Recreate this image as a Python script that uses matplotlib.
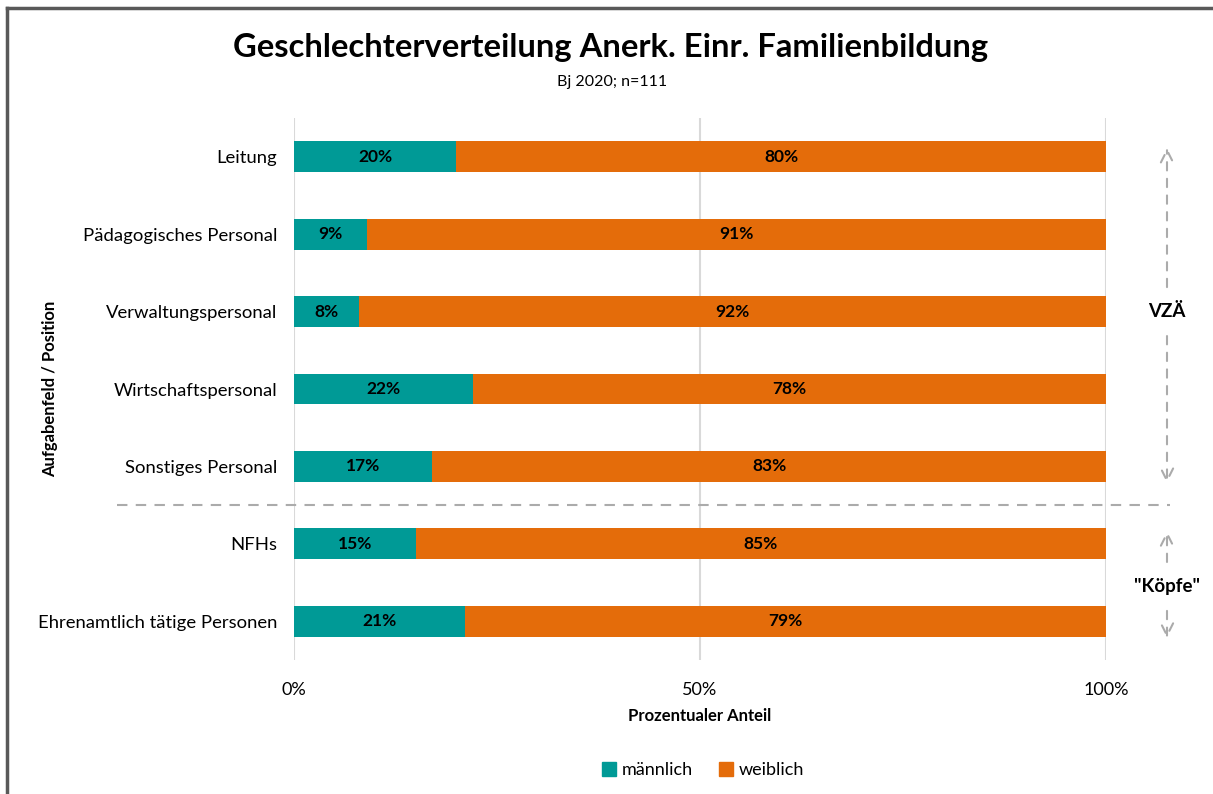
import matplotlib
matplotlib.use('Agg')
import matplotlib.pyplot as plt
from matplotlib.lines import Line2D

plt.rcParams['font.family'] = ['Lato', 'DejaVu Sans']

categories = ['Leitung', 'Pädagogisches Personal', 'Verwaltungspersonal',
              'Wirtschaftspersonal', 'Sonstiges Personal', 'NFHs',
              'Ehrenamtlich tätige Personen']
maennlich = [20, 9, 8, 22, 17, 15, 21]
weiblich = [80, 91, 92, 78, 83, 85, 79]
series_names = ['männlich', 'weiblich']
xticks = [0, 50, 100]
xticklabels = ['0%', '50%', '100%']

teal = '#009A96'
orange = '#E46C0A'
grey = '#ABABAB'

fig = plt.figure(figsize=(12.13, 7.94), dpi=100)
ax = fig.add_axes([294/1213, 1-660/794, 812/1213, 542/794])

y = list(range(len(categories)))
ax.barh(y, maennlich, height=0.40, color=teal, label=series_names[0])
ax.barh(y, weiblich, left=maennlich, height=0.40, color=orange, label=series_names[1])

for i in y:
    ax.text(maennlich[i]/2, i, '%d%%' % maennlich[i], ha='center', va='center',
            fontsize=12.5, fontweight='bold', color='black')
    ax.text(maennlich[i] + weiblich[i]/2, i, '%d%%' % weiblich[i], ha='center',
            va='center', fontsize=12.5, fontweight='bold', color='black')

ax.set_xlim(0, 100)
ax.set_ylim(6.5, -0.5)
ax.set_yticks(y)
ax.set_yticklabels(categories, fontsize=13.3)
ax.set_xticks(xticks)
ax.set_xticklabels(xticklabels, fontsize=13)
ax.tick_params(length=0)
ax.tick_params(axis='y', pad=12)
ax.tick_params(axis='x', pad=16)
for s in ax.spines.values():
    s.set_visible(False)
ax.grid(axis='x', color='#D9D9D9', linewidth=1.5)
ax.set_axisbelow(True)

ax.set_xlabel('Prozentualer Anteil', fontsize=12, fontweight='bold', labelpad=7)
fig.text(50/1213, 1-389/794, 'Aufgabenfeld / Position', rotation=90, ha='center',
         va='center', fontsize=12, fontweight='bold')

fig.text(0.5*(232+990)/1213, 1-47/794, 'Geschlechterverteilung Anerk. Einr. Familienbildung',
         ha='center', va='center', fontsize=23.6, fontweight='bold')
fig.text(612/1213, 1-82/794, 'Bj 2020; n=111', ha='center', va='center', fontsize=11.5)

# separator between VZÄ and Köpfe
ax.plot([-0.218*100, 1.079*100], [4.5, 4.5], color=grey, linestyle=(0, (5, 4)),
        linewidth=1.5, clip_on=False)

# arrows at the right
ax_x = (1167-294)/812*100
def dashed_arrow(y0, y1, label, ylab):
    ax.annotate('', xy=(ax_x, y0), xytext=(ax_x, ylab - 0.28),
                arrowprops=dict(arrowstyle='->', color=grey, linestyle=(0, (4, 4)),
                                linewidth=1.5, mutation_scale=22),
                annotation_clip=False)
    ax.annotate('', xy=(ax_x, y1), xytext=(ax_x, ylab + 0.28),
                arrowprops=dict(arrowstyle='->', color=grey, linestyle=(0, (4, 4)),
                                linewidth=1.5, mutation_scale=22),
                annotation_clip=False)
    ax.text(ax_x, ylab, label, ha='center', va='center', fontsize=13.5,
            fontweight='bold', clip_on=False)

dashed_arrow(-0.15, 4.25, 'VZÄ', 2.0)
dashed_arrow(4.8, 6.25, '"Köpfe"', 5.55)

handles = [Line2D([], [], marker='s', linestyle='', markersize=10, color=teal),
           Line2D([], [], marker='s', linestyle='', markersize=10, color=orange)]
fig.legend(handles, series_names, loc='center', bbox_to_anchor=(703/1213, 1-770/794),
           ncol=2, frameon=False, fontsize=13, handlelength=0.8,
           handletextpad=0.3, columnspacing=1.4)

# chart border (top and left visible)
fig.add_artist(Line2D([7/1213, 7/1213], [0, 1-8/794], color='#595959', linewidth=2.5))
fig.add_artist(Line2D([7/1213, 1], [1-8/794, 1-8/794], color='#595959', linewidth=2.5))

fig.savefig('out.png', dpi=100)
